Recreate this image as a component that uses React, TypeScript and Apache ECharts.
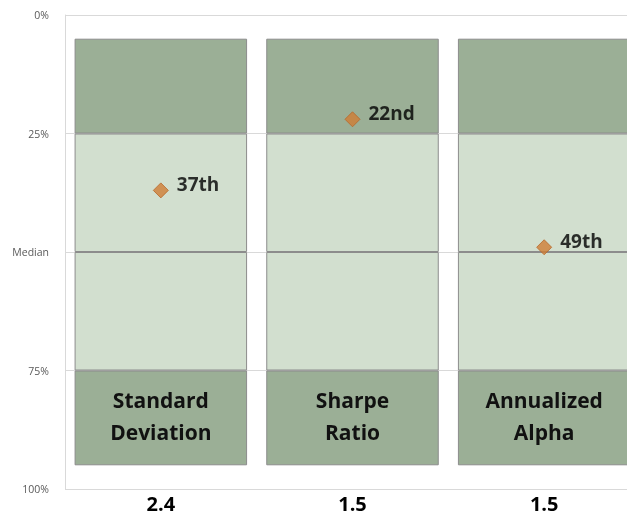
import React, { useEffect, useRef } from "react";
import * as echarts from "echarts";

const categories = ["Standard\nDeviation", "Sharpe\nRatio", "Annualized\nAlpha"];
const metricValues = ["2.4", "1.5", "1.5"];
const percentileRanks = [37, 22, 49];
const rankLabels = ["37th", "22nd", "49th"];
const yTickLabels: Record<number, string> = { 0: "0%", 25: "25%", 50: "Median", 75: "75%", 100: "100%" };
// band segments (stacked): offset, top quartile, 2nd quartile, 3rd quartile, bottom quartile
const bandOffset = [5, 5, 5];
const bandQ1 = [20, 20, 20];
const bandQ2 = [25, 25, 25];
const bandQ3 = [25, 25, 25];
const bandQ4 = [20, 20, 20];

const DARK = "#9BAF96";
const LIGHT = "#D2DFCF";
const BORDER = "#8C8C8C";
const BOLD_FONT = "Open Sans";

export default function App() {
  const ref = useRef<HTMLDivElement>(null);
  useEffect(() => {
    if (!ref.current) return;
    const chart = echarts.init(ref.current, undefined, { renderer: "svg" });
    const bandStyle = (color: string) => ({ color, borderColor: BORDER, borderWidth: 1 });
    chart.setOption({
      animation: false,
      grid: { left: 65, right: 0, top: 15, bottom: 27, containLabel: false },
      xAxis: {
        type: "category",
        data: categories,
        axisLine: { show: false },
        axisTick: { show: false },
        axisLabel: {
          formatter: (_v: string, i: number) => metricValues[i],
          fontFamily: BOLD_FONT,
          fontWeight: "bold",
          fontSize: 20,
          color: "#000",
          margin: 4,
        },
      },
      yAxis: {
        type: "value",
        inverse: true,
        min: 0,
        max: 100,
        interval: 25,
        axisLine: { show: true, lineStyle: { color: "#D9D9D9" } },
        axisTick: { show: false },
        splitLine: { lineStyle: { color: "#D9D9D9" } },
        axisLabel: {
          formatter: (v: number) => yTickLabels[v] ?? "",
          fontFamily: "Open Sans",
          fontSize: 10.5,
          color: "#595959",
          margin: 16,
        },
      },
      series: [
        { type: "bar", stack: "b", data: bandOffset, barCategoryGap: "10%", itemStyle: { color: "transparent" }, silent: true },
        { type: "bar", stack: "b", data: bandQ1, itemStyle: bandStyle(DARK) },
        { type: "bar", stack: "b", data: bandQ2, itemStyle: bandStyle(LIGHT) },
        { type: "bar", stack: "b", data: bandQ3, itemStyle: bandStyle(LIGHT) },
        {
          type: "bar",
          stack: "b",
          data: bandQ4,
          itemStyle: bandStyle(DARK),
          label: {
            show: true,
            position: "inside",
            formatter: (p: any) => categories[p.dataIndex],
            fontFamily: BOLD_FONT,
            fontWeight: "bold",
            fontSize: 21,
            lineHeight: 32,
            color: "#111",
            offset: [0, -2],
          },
        },
        {
          type: "scatter",
          data: percentileRanks.map((v, i) => [i, v]),
          symbol: "diamond",
          symbolSize: [15, 15],
          itemStyle: { color: "#D07D35", borderColor: "#B8682A", borderWidth: 1 },
          label: {
            show: true,
            position: "right",
            formatter: (p: any) => rankLabels[p.dataIndex],
            fontFamily: BOLD_FONT,
            fontWeight: "bold",
            fontSize: 19,
            color: "#000",
            offset: [3, -6],
          },
          z: 5,
        },
      ],
    });
    return () => chart.dispose();
  }, []);
  return (
    <div style={{ position: "fixed", left: 0, top: 0, width: 627, height: 516, overflow: "hidden" }}>
      <div ref={ref} style={{ width: 640, height: 516 }} />
    </div>
  );
}
